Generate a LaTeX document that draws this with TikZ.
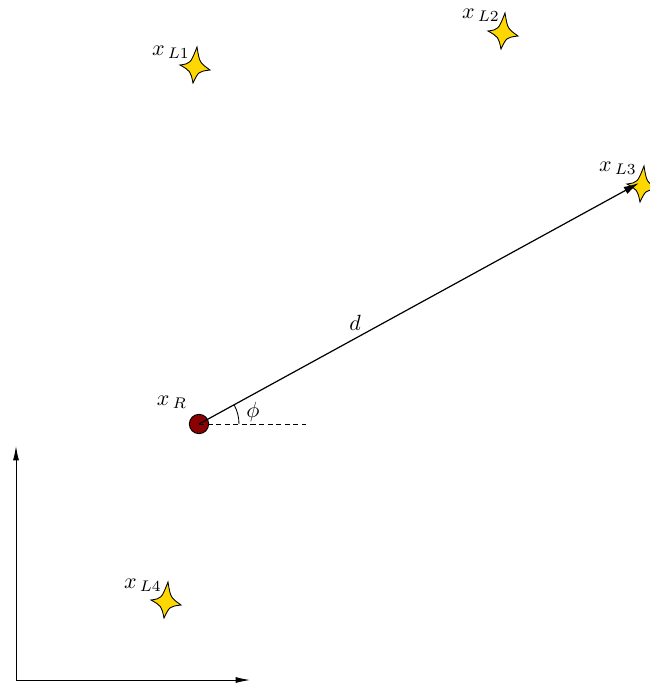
\documentclass[tikz,border=0pt]{standalone}
\usetikzlibrary{arrows.meta}
\definecolor{starY}{HTML}{FFD700}
\definecolor{recv}{HTML}{8B0000}
\tikzset{
  lstar/.pic={
    \draw[fill=starY, line width=0.4pt]
      (2,-20) .. controls (4.5,-4.5) .. (15,3) .. controls (3.5,4.5) .. (-2,16)
      .. controls (-4.5,4) .. (-15,-2) .. controls (-4.5,-3.5) .. cycle;
  },
  lbl/.style={inner sep=0pt, anchor=center},
  axis/.style={line width=0.4pt, -{Latex[length=6.5pt,width=2.7pt]}},
  rangeline/.style={line width=0.55pt, -{Latex[length=7pt,width=3.6pt]}},
}
\begin{document}
\begin{tikzpicture}[x=0.4545pt,y=-0.4545pt]
\useasboundingbox (0,0) rectangle (649,685);
% landmarks
\coordinate (L1) at (195,67);
\coordinate (L2) at (503,33);
\coordinate (L3) at (642,186);
\coordinate (L4) at (166,602);
\pic at (L1) {lstar};
\pic at (L2) {lstar};
\pic at (L3) {lstar};
\pic at (L4) {lstar};
\node[lbl] (tL1) at (171,52) {$x_{\,L1}$};
\node[lbl] (tL2) at (481,15) {$x_{\,L2}$};
\node[lbl] (tL3) at (618,168) {$x_{\,L3}$};
\node[lbl] (tL4) at (143,585) {$x_{\,L4}$};
% robot
\node[circle, draw, fill=recv, line width=0.4pt, minimum size=8.8pt, inner sep=0pt] (R) at (199,424) {};
\node[lbl] (tR) at (172,402) {$x_{\,R}$};
\coordinate (ref) at (306,424);
\draw[line width=0.45pt, dash pattern=on 2.3pt off 1.6pt] (R.center) -- (ref);
\coordinate (tipL3) at (639,183);
\draw[rangeline] (R.center) -- (tipL3) node[pos=0.355, above=3.5pt, inner sep=0pt] (dl) {$d$};
\draw[line width=0.4pt] ([shift={(40,0)}]R.center) arc[start angle=0, end angle=-28.7, radius=40];
\node[lbl] (phi) at (253,412) {$\phi$};
% axes
\coordinate (O) at (16,680);
\coordinate (Yt) at (16,446);
\coordinate (Xt) at (250,680);
\draw[axis] (O) -- (Yt);
\draw[axis] (O) -- (Xt);
\end{tikzpicture}
\end{document}
